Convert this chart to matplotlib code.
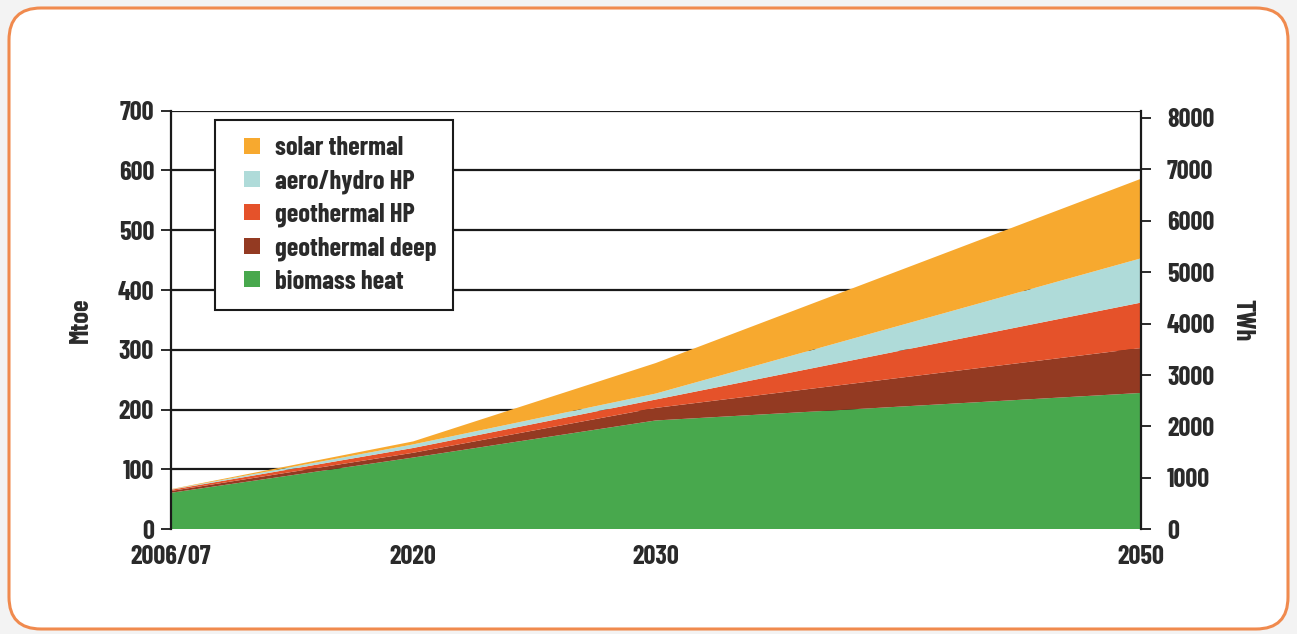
import matplotlib
matplotlib.use("Agg")
import matplotlib.pyplot as plt
from matplotlib.patches import FancyBboxPatch, Patch, Rectangle
from matplotlib.legend_handler import HandlerPatch

# ---------------- data ----------------
x_labels = ["2006/07", "2020", "2030", "2050"]
x_years = [2010, 2020, 2030, 2050]          # position of each label on the time axis
biomass_heat = [61, 120, 182, 228]
geothermal_deep = [3, 8, 21, 75]
geothermal_hp = [2, 8, 14, 76]
aero_hydro_hp = [0.5, 6, 10, 74]
solar_thermal = [0.5, 5, 51, 133]
series_names = ["biomass heat", "geothermal deep", "geothermal HP", "aero/hydro HP", "solar thermal"]
left_ticks = [0, 100, 200, 300, 400, 500, 600, 700]
right_ticks = [0, 1000, 2000, 3000, 4000, 5000, 6000, 7000, 8000]
TWH_PER_MTOE = 11.63

colors = ["#48a84d", "#933a22", "#e5522a", "#afdbd9", "#f7a92f"]

plt.rcParams["font.family"] = ["Barlow Condensed", "Liberation Sans", "DejaVu Sans"]
plt.rcParams["font.weight"] = 650
plt.rcParams["axes.labelweight"] = 650
txt_col = "#2a2a2a"
FS = 19

W, H = 1297, 634
fig = plt.figure(figsize=(W / 100, H / 100), dpi=100)
fig.patch.set_facecolor("#f3f3f3")

bg = fig.add_axes([0, 0, 1, 1])
bg.set_xlim(0, W)
bg.set_ylim(H, 0)
bg.axis("off")
bg.add_patch(FancyBboxPatch((9, 8), W - 16 - 2, H - 8 - 5, boxstyle="round,pad=0,rounding_size=32",
                            facecolor="white", edgecolor="#f08a4e", linewidth=2.2))

L, R, B, T = 170.7, 1140.7, 529.3, 110.7
ax = fig.add_axes([L / W, 1 - B / H, (R - L) / W, (B - T) / H])
ax.set_facecolor("none")

series = [biomass_heat, geothermal_deep, geothermal_hp, aero_hydro_hp, solar_thermal]
ax.stackplot(x_years, *series, colors=colors, labels=series_names, linewidth=0, zorder=2)

ax.set_xlim(x_years[0], x_years[-1])
ax.set_ylim(0, 700)
for v in left_ticks:
    ax.axhline(v, color="#1a1a1a", linewidth=1.6, zorder=1)

ax.set_yticks(left_ticks)
ax.set_yticklabels([str(v) for v in left_ticks])
ax.set_xticks(x_years)
ax.set_xticklabels(x_labels)
ax.tick_params(axis="y", direction="out", length=7, width=1.3, colors="#1a1a1a",
               labelsize=FS, labelcolor=txt_col, pad=5)
ax.tick_params(axis="x", length=0, labelsize=FS, labelcolor=txt_col, pad=11)
ax.set_xticks([x_years[0], x_years[-1]], minor=True)
ax.tick_params(axis="x", which="minor", direction="out", length=8, width=1.3, colors="#1a1a1a")

for s in ["top", "bottom"]:
    ax.spines[s].set_visible(False)
for s in ["left", "right"]:
    ax.spines[s].set_linewidth(1.6)
    ax.spines[s].set_color("#1a1a1a")

ax.set_ylabel("Mtoe", fontsize=FS, color=txt_col, labelpad=18)

ax2 = ax.twinx()
ax2.set_ylim(0, 700 * TWH_PER_MTOE)
ax2.set_yticks(right_ticks)
ax2.set_yticklabels([str(v) for v in right_ticks])
ax2.tick_params(axis="y", direction="out", length=7, width=1.3, colors="#1a1a1a",
                labelsize=FS, labelcolor=txt_col, pad=12)
for s in ["top", "bottom", "left", "right"]:
    ax2.spines[s].set_visible(False)
ax2.set_ylabel("TWh", fontsize=FS, color=txt_col, rotation=270, labelpad=28)

SQ = 11.5  # legend square side in points


def square_patch(legend, orig_handle, xdescent, ydescent, width, height, fontsize):
    return Rectangle((-xdescent + width - SQ, -ydescent + (height - SQ) / 2), SQ, SQ)


handles = [Patch(facecolor=c, edgecolor="none") for c in colors][::-1]
leg = ax.legend(handles, series_names[::-1], loc="upper left", bbox_to_anchor=(0.0457, 0.978),
                borderaxespad=0, frameon=True, fancybox=False, fontsize=19, framealpha=1,
                handlelength=1.1, handleheight=0.6, handletextpad=0.57,
                labelspacing=0.34, borderpad=0.62,
                handler_map={Patch: HandlerPatch(patch_func=square_patch)})
leg.get_frame().set_edgecolor("#1a1a1a")
leg.get_frame().set_linewidth(1.5)
leg.set_zorder(5)
for t in leg.get_texts():
    t.set_color(txt_col)

fig.savefig("out.png", dpi=100, facecolor=fig.get_facecolor())
